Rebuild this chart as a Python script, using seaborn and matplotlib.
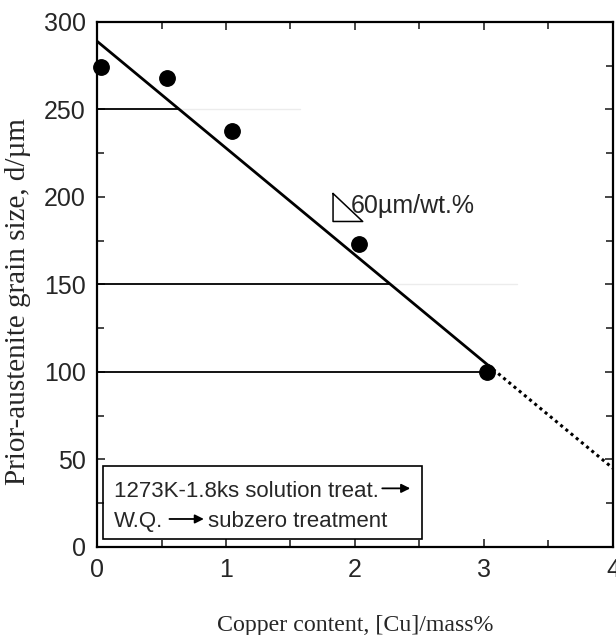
import matplotlib
matplotlib.use("Agg")
import matplotlib.pyplot as plt
import seaborn as sns
import numpy as np
import pandas as pd
from matplotlib.ticker import MultipleLocator

# Data
cu = [0.03, 0.54, 1.05, 2.03, 3.02]
grain = [274, 268, 237.5, 173, 100]
fit_x = [0.0, 3.03]
fit_y = [289, 104]
extrap_x = [3.03, 4.0]
extrap_y = [104, 45]
href_y = [250, 150, 100]
href_end = [0.63, 2.27, 3.0]
faint_end = [1.57, 3.26, None]
xticks = [0, 1, 2, 3, 4]
yticks = [0, 50, 100, 150, 200, 250, 300]

sns.set_style("ticks")
plt.rcParams['font.family'] = ['Liberation Sans', 'DejaVu Sans']

fig = plt.figure(figsize=(6.16, 6.35), dpi=100)
ax = fig.add_axes([0.1575, 0.1386, 0.8375, 0.8268])

# horizontal reference lines
for y, xe, fe in zip(href_y, href_end, faint_end):
    if fe is not None:
        ax.plot([xe, fe], [y, y], color='#ececec', lw=1.0, zorder=1)
    ax.plot([0, xe], [y, y], color='black', lw=1.3, zorder=2)

df_fit = pd.DataFrame({'x': fit_x, 'y': fit_y})
df_ex = pd.DataFrame({'x': extrap_x, 'y': extrap_y})
sns.lineplot(data=df_fit, x='x', y='y', ax=ax, color='black', lw=2.0, zorder=3)
sns.lineplot(data=df_ex, x='x', y='y', ax=ax, color='black', lw=2.2, ls=(0, (1, 1.2)), zorder=3)

df = pd.DataFrame({'cu': cu, 'd': grain})
sns.scatterplot(data=df, x='cu', y='d', ax=ax, color='black', s=125, edgecolor='black', zorder=4, clip_on=False)

# slope triangle
ax.plot([1.83, 1.83, 2.06, 1.83], [202, 186, 186, 202], color='black', lw=1.1, zorder=3)
ax.text(1.97, 195, "60\u00b5m/wt.%", fontsize=18, va='center', ha='left')

# info box
box = plt.Rectangle((0.05, 4.5), 2.47, 41.5, fill=False, ec='black', lw=1.2, zorder=5)
ax.add_patch(box)
ax.text(0.13, 31.5, "1273K-1.8ks solution treat.", fontsize=16, va='center', ha='left')
ax.annotate("", xy=(2.45, 33.5), xytext=(2.19, 33.5),
            arrowprops=dict(arrowstyle='-|>', color='black', lw=1.3, mutation_scale=13))
ax.text(0.13, 14.3, "W.Q.", fontsize=16, va='center', ha='left')
ax.annotate("", xy=(0.85, 16), xytext=(0.54, 16),
            arrowprops=dict(arrowstyle='-|>', color='black', lw=1.3, mutation_scale=13))
ax.text(0.86, 14.3, "subzero treatment", fontsize=16, va='center', ha='left')

ax.set_xlim(0, 4)
ax.set_ylim(0, 300)
ax.set_xticks(xticks)
ax.set_yticks(yticks)
ax.xaxis.set_minor_locator(MultipleLocator(0.5))
ax.yaxis.set_minor_locator(MultipleLocator(25))
ax.tick_params(which='both', direction='in', top=True, right=True, labelsize=18, width=1.2, pad=8)
ax.tick_params(which='major', length=6)
ax.tick_params(which='minor', length=5)
for s in ax.spines.values():
    s.set_linewidth(1.6)
    s.set_color('black')

ax.set_xlabel("Copper content, [Cu]/mass%", family=['Liberation Serif', 'DejaVu Serif'], fontsize=17.2, labelpad=24)
ax.set_ylabel("Prior-austenite grain size, d/\u00b5m", family=['Liberation Serif', 'DejaVu Serif'], fontsize=21)
ax.yaxis.set_label_coords(-0.128, 0.467)

fig.savefig("out.png", dpi=100)
